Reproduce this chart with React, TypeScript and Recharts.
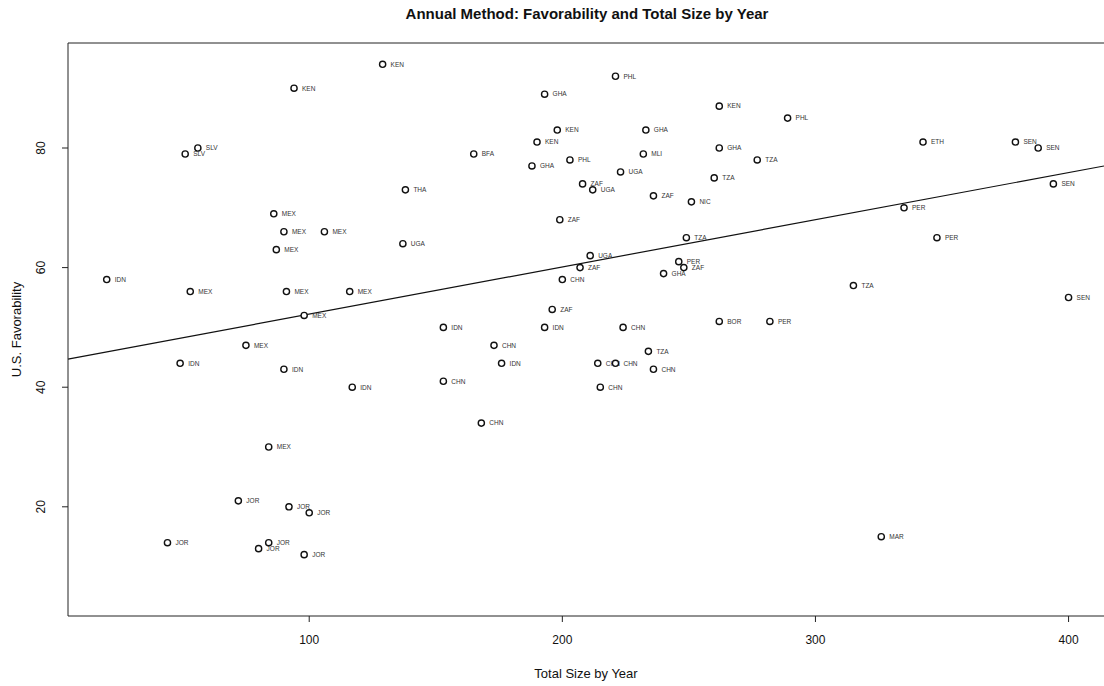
import React from 'react'
import {
  ScatterChart, Scatter, XAxis, YAxis, ReferenceLine,
} from 'recharts'

// country code per point
const countries = [
  'KEN', 'KEN', 'SLV', 'SLV', 'THA', 'MEX', 'MEX', 'MEX', 'MEX', 'UGA',
  'IDN', 'MEX', 'MEX', 'MEX', 'MEX', 'PHL', 'GHA', 'KEN', 'KEN', 'GHA',
  'KEN', 'BFA', 'PHL', 'MLI', 'GHA', 'GHA', 'UGA', 'TZA', 'ZAF', 'UGA',
  'ZAF', 'NIC', 'ZAF', 'TZA', 'UGA', 'PER', 'ZAF', 'ZAF', 'GHA', 'CHN',
  'ZAF', 'IDN', 'IDN', 'CHN', 'BOR', 'PHL', 'ETH', 'SEN', 'SEN', 'TZA',
  'SEN', 'PER', 'PER', 'TZA', 'SEN', 'PER', 'MEX', 'IDN', 'IDN', 'IDN',
  'MEX', 'JOR', 'JOR', 'JOR', 'JOR', 'JOR', 'JOR', 'JOR', 'CHN', 'TZA',
  'IDN', 'CHN', 'CHN', 'CHN', 'CHN', 'CHN', 'CHN', 'MAR',
]

const totalSize = [
  129, 94, 56, 51, 138, 86, 90, 106, 87, 137,
  20, 53, 91, 116, 98, 221, 193, 262, 198, 233,
  190, 165, 203, 232, 262, 188, 223, 260, 208, 212,
  236, 251, 199, 249, 211, 246, 248, 207, 240, 200,
  196, 153, 193, 224, 262, 289, 342.5, 379, 388, 277,
  394, 335, 348, 315, 400, 282, 75, 49, 90, 117,
  84, 72, 92, 100, 44, 84, 80, 98, 173, 234,
  176, 214, 221, 236, 153, 215, 168, 326,
]

const favorability = [
  94, 90, 80, 79, 73, 69, 66, 66, 63, 64,
  58, 56, 56, 56, 52, 92, 89, 87, 83, 83,
  81, 79, 78, 79, 80, 77, 76, 75, 74, 73,
  72, 71, 68, 65, 62, 61, 60, 60, 59, 58,
  53, 50, 50, 50, 51, 85, 81, 81, 80, 78,
  74, 70, 65, 57, 55, 51, 47, 44, 43, 40,
  30, 21, 20, 19, 14, 14, 13, 12, 47, 46,
  44, 44, 44, 43, 41, 40, 34, 15,
]

const xTicks = [100, 200, 300, 400]
const yTicks = [20, 40, 60, 80]
const xDomain = [4.7, 414]
const yDomain = [1.74, 97.56]

// lm(favorability ~ size) as drawn by abline
const fitIntercept = 44.33
const fitSlope = 0.0789

const points = countries.map((c, i) => ({ code: c, size: totalSize[i], fav: favorability[i] }))
const fitLine = xDomain.map((x) => ({ x, y: fitIntercept + fitSlope * x }))

const font = '"Liberation Sans", Arial, Helvetica, sans-serif'

const PointMark = (props: any) => {
  const { cx, cy, payload } = props
  return (
    <g>
      <circle cx={cx} cy={cy} r={3.1} fill="#fff" stroke="#111" strokeWidth={1.4} />
      <text x={cx + 8} y={cy + 2.3} fontSize={6.5} fill="#333" fontFamily={font}>
        {payload.code}
      </text>
    </g>
  )
}

const YTick = (props: any) => {
  const { x, y, payload } = props
  return (
    <text
      x={x}
      y={y}
      dy="0.35em"
      textAnchor="middle"
      transform={`rotate(-90, ${x}, ${y})`}
      fontSize={12}
      fill="#111"
      fontFamily={font}
    >
      {payload.value}
    </text>
  )
}

export default function App() {
  return (
    <div style={{ width: 1104, height: 686, background: '#fff', fontFamily: font }}>
      <style>{'body{margin:0;background:#fff}'}</style>
      <div
        style={{
          position: 'absolute', left: 0, top: 5, width: 1174, textAlign: 'center',
          fontSize: 15, fontWeight: 700, color: '#111', lineHeight: '18px',
        }}
      >
        Annual Method: Favorability and Total Size by Year
      </div>
      <ScatterChart width={1104} height={686} margin={{ top: 43, right: 0, bottom: 0, left: 0 }}>
        <XAxis
          type="number"
          dataKey="size"
          domain={xDomain}
          ticks={xTicks}
          height={70}
          stroke="#222"
          tickSize={6}
          tickMargin={13}
          tick={{ fill: '#111', fontSize: 12, fontFamily: font }}
          allowDataOverflow
          label={{ value: 'Total Size by Year', position: 'insideBottom', offset: 8, fill: '#111', fontSize: 13, fontFamily: font }}
        />
        <YAxis
          type="number"
          dataKey="fav"
          domain={yDomain}
          ticks={yTicks}
          width={68}
          stroke="#222"
          tickSize={6}
          tickMargin={21}
          tick={<YTick />}
          allowDataOverflow
          label={{ value: 'U.S. Favorability', angle: -90, position: 'insideLeft', offset: 16, fill: '#111', fontSize: 13, fontFamily: font, style: { textAnchor: 'middle' } }}
        />
        <ReferenceLine y={yDomain[1]} stroke="#222" strokeWidth={1} ifOverflow="extendDomain" />
        <ReferenceLine
          segment={fitLine}
          stroke="#111"
          strokeWidth={1.2}
        />
        <Scatter data={points} shape={<PointMark />} isAnimationActive={false} />
      </ScatterChart>
    </div>
  )
}
